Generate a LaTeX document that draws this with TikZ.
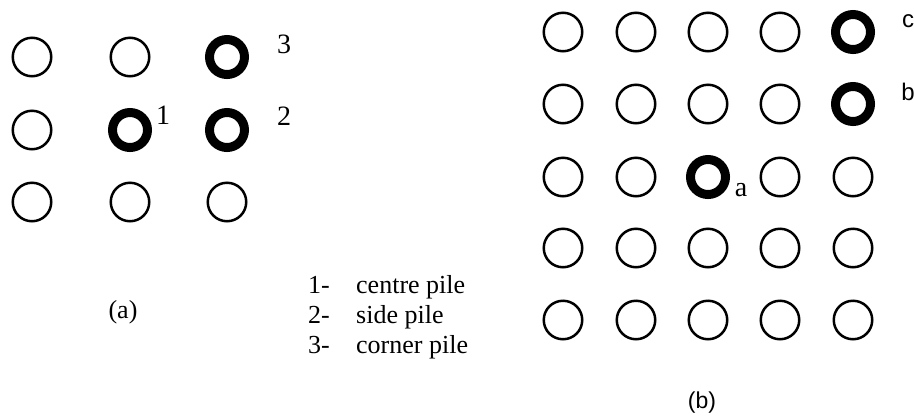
\documentclass[tikz,border=0pt]{standalone}
\usepackage{fontspec}
\setmainfont{Liberation Serif}
\newfontfamily\labsans{Liberation Sans}
\begin{document}
\begin{tikzpicture}[x=1pt,y=-1pt,
  pile/.style={draw=black,circle,line width=2.5pt,minimum size=38.5pt,inner sep=0pt},
  bold pile/.style={draw=black,circle,line width=9pt,minimum size=35pt,inner sep=0pt},
  numlab/.style={font=\fontsize{28}{30}\selectfont,inner sep=0pt,anchor=base},
  leg/.style={font=\fontsize{26}{30}\selectfont,inner sep=0pt,anchor=base west},
  sanslab/.style={font=\labsans\fontsize{24}{28}\selectfont,inner sep=0pt,anchor=base}]
\path[use as bounding box,fill=white] (0,0) rectangle (914,416);
% ---- grid (a)
\node[pile] (a11) at (32,57) {};
\node[pile] (a12) at (130,57) {};
\node[bold pile] (a13) at (227,57) {};
\node[pile] (a21) at (32,130) {};
\node[bold pile] (a22) at (130,130) {};
\node[bold pile] (a23) at (227,130) {};
\node[pile] (a31) at (32,202) {};
\node[pile] (a32) at (130,202) {};
\node[pile] (a33) at (227,202) {};
\node[numlab] (l3) at (284,53) {3};
\node[numlab] (l2) at (284,125) {2};
\node[numlab] (l1) at (163,124) {1};
\node[font=\fontsize{26}{30}\selectfont,inner sep=0pt] (capa) at (123,312) {(a)};
% ---- legend
\node[leg] (k1) at (308,293) {1-};
\node[leg] (t1) at (356,293) {centre pile};
\node[leg] (k2) at (308,323) {2-};
\node[leg] (t2) at (356,323) {side pile};
\node[leg] (k3) at (308,353) {3-};
\node[leg] (t3) at (356,353) {corner pile};
% ---- grid (b)
\foreach \r/\y in {1/32,2/104,3/177,4/248,5/320}{
  \foreach \c/\x in {1/563,2/636,3/708,4/780,5/853}{
    \pgfmathtruncatemacro{\isbold}{(\r==1 && \c==5) || (\r==2 && \c==5) || (\r==3 && \c==3)}
    \ifnum\isbold=1
      \node[bold pile] (b\r\c) at (\x,\y) {};
    \else
      \node[pile] (b\r\c) at (\x,\y) {};
    \fi
  }
}
\node[sanslab] (lc) at (908,27) {c};
\node[sanslab] (lb) at (908,100) {b};
\node[font=\fontsize{28}{30}\selectfont,inner sep=0pt,anchor=base] (la) at (741,196) {a};
\node[font=\labsans\fontsize{23}{28}\selectfont,inner sep=0pt] (capb) at (702,403) {(b)};
\end{tikzpicture}
\end{document}
